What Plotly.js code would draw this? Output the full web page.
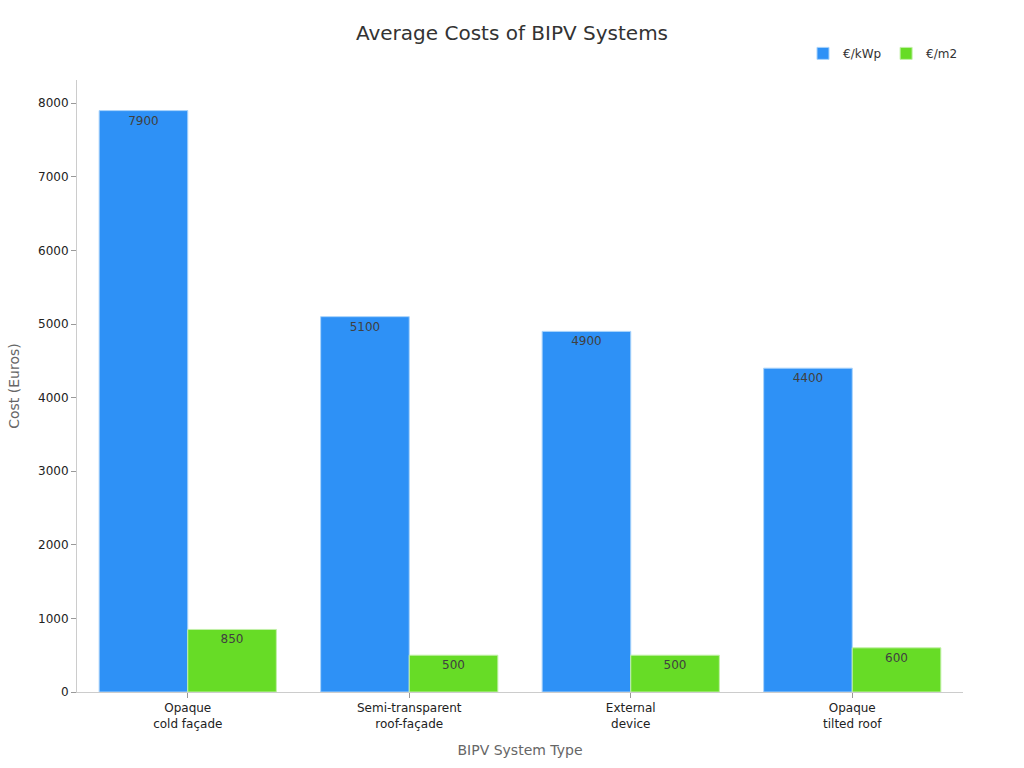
<!DOCTYPE html>
<html>
<head>
<meta charset="utf-8">
<script src="https://cdn.plot.ly/plotly-3.0.1.min.js"></script>
<style>html,body{margin:0;padding:0;background:#fff;}#chart{width:1024px;height:768px;}</style>
</head>
<body>
<div id="chart"></div>
<script>
// BIPV system types and their average costs
const categories = ["Opaque<br>cold façade", "Semi-transparent<br>roof-façade", "External<br>device", "Opaque<br>tilted roof"];
const costPerKWp = [7900, 5100, 4900, 4400];
const costPerM2 = [850, 500, 500, 600];

const font = "DejaVu Sans, Verdana, sans-serif";

const traces = [
  {
    type: "bar", name: "€/kWp", x: categories, y: costPerKWp,
    text: costPerKWp.map(String), textposition: "inside", insidetextanchor: "end",
    textfont: {family: font, size: 12, color: "#404040"},
    marker: {color: "#2e91f6", line: {color: "#a9d3fb", width: 1}},
    hoverinfo: "x+y"
  },
  {
    type: "bar", name: "€/m2", x: categories, y: costPerM2,
    text: costPerM2.map(String), textposition: "inside", insidetextanchor: "end",
    textfont: {family: font, size: 12, color: "#404040"},
    marker: {color: "#67dc26", line: {color: "#c2f0a8", width: 1}},
    hoverinfo: "x+y"
  }
];

const layout = {
  width: 1024, height: 768,
  margin: {l: 77, r: 61, t: 80, b: 76},
  paper_bgcolor: "#fff", plot_bgcolor: "#fff",
  font: {family: font, size: 12, color: "#333"},
  title: {text: "Average Costs of BIPV Systems", x: 0.5, xanchor: "center", y: 0.957, yanchor: "middle",
          font: {family: font, size: 20, color: "#333"}},
  barmode: "group", bargap: 0.2, bargroupgap: 0,
  showlegend: true,
  legend: {orientation: "h", x: 1.0, xanchor: "right", y: 1.0435, yanchor: "middle",
           font: {family: font, size: 12, color: "#333"}, bgcolor: "rgba(0,0,0,0)"},
  xaxis: {
    title: {text: "BIPV System Type", font: {family: font, size: 14, color: "#666"}, standoff: 15},
    showline: true, linecolor: "#ccc", linewidth: 1,
    ticks: "outside", tickcolor: "#999", ticklen: 5,
    tickfont: {family: font, size: 12, color: "#222"},
    showgrid: false
  },
  yaxis: {
    title: {text: "Cost (Euros)", font: {family: font, size: 14, color: "#666"}, standoff: 15},
    showline: true, linecolor: "#ccc", linewidth: 1,
    ticks: "outside", tickcolor: "#999", ticklen: 5,
    tickfont: {family: font, size: 12, color: "#222"},
    showgrid: false, zeroline: false, dtick: 1000
  }
};

Plotly.newPlot("chart", traces, layout, {displayModeBar: false, staticPlot: true});
</script>
</body>
</html>
